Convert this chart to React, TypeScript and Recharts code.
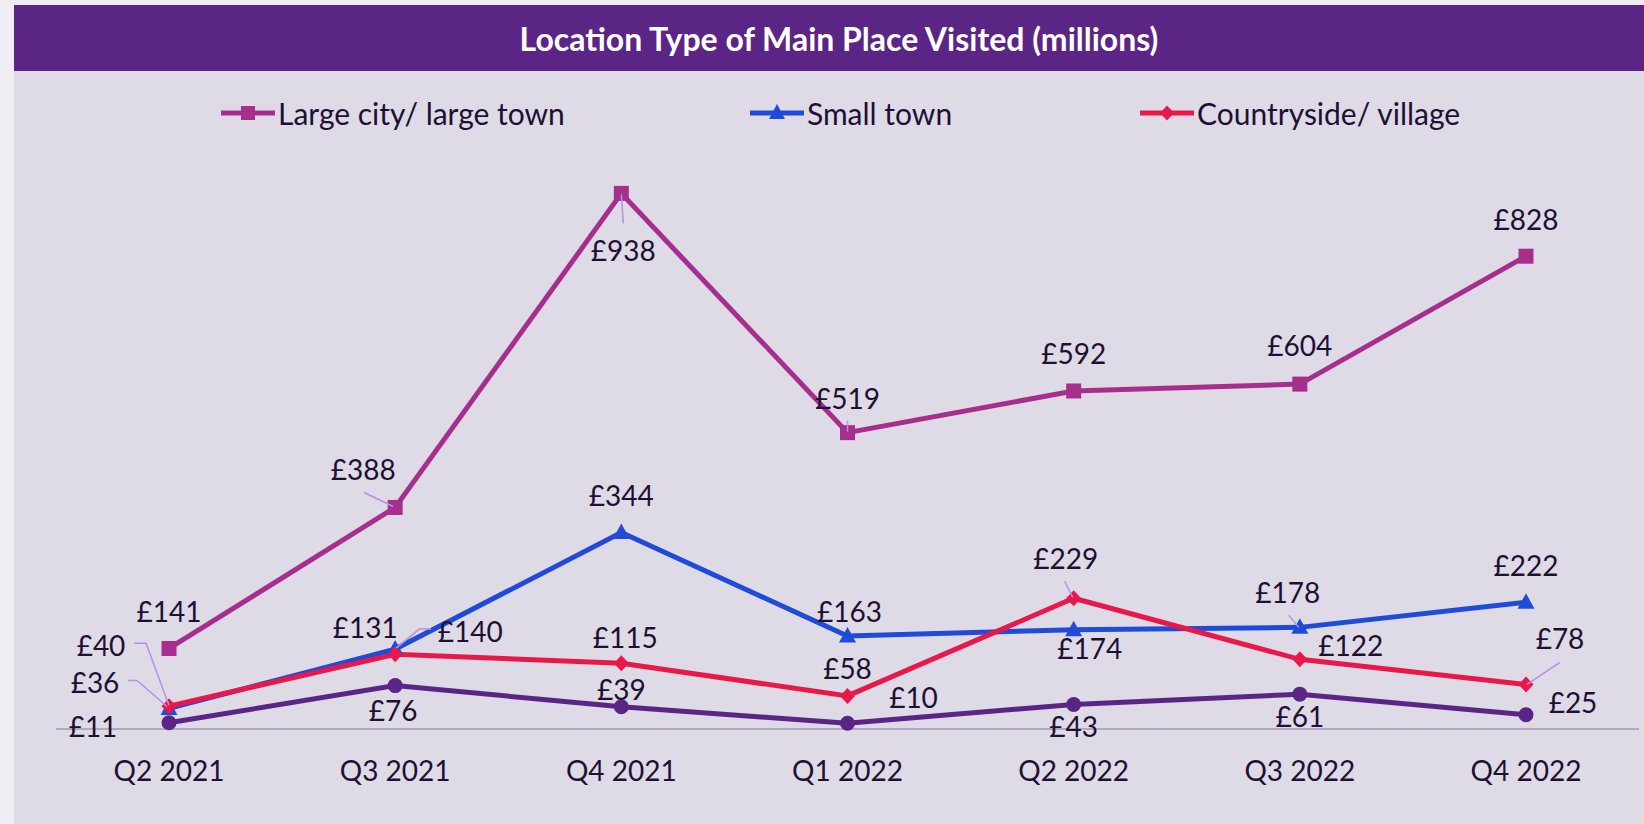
import React from 'react';
import { LineChart, Line, XAxis, YAxis, LabelList } from 'recharts';

const categories = ['Q2 2021', 'Q3 2021', 'Q4 2021', 'Q1 2022', 'Q2 2022', 'Q3 2022', 'Q4 2022'];
const largeCity = [141, 388, 938, 519, 592, 604, 828];
const smallTown = [36, 140, 344, 163, 174, 178, 222];
const countryside = [40, 131, 115, 58, 229, 122, 78];
const otherPlace = [11, 76, 39, 10, 43, 61, 25];

const seriesNames = ['Large city/ large town', 'Small town', 'Countryside/ village'];

const data = categories.map((quarter, i) => ({
  quarter,
  large: largeCity[i],
  small: smallTown[i],
  country: countryside[i],
  other: otherPlace[i],
}));

const FONT = "Lato, 'Open Sans', sans-serif";
const TEXT = '#1e1033';
const LEADER = '#b98fe6';
const C_LARGE = '#a62f8e';
const C_SMALL = '#1f4bd8';
const C_COUNTRY = '#e8194a';
const C_OTHER = '#5b2586';
const SW = 5;

type Off = { dx: number; dy: number; leader?: number[][] };

const largeOff: Off[] = [
  { dx: 0, dy: -37 },
  { dx: -32, dy: -38, leader: [[-31, -15], [-2, -1]] },
  { dx: 2, dy: 57, leader: [[0, 1], [2, 30]] },
  { dx: 0, dy: -35, leader: [[0, -12], [0, -1]] },
  { dx: 0, dy: -38 },
  { dx: 0, dy: -39 },
  { dx: 0, dy: -37 },
];
const smallOff: Off[] = [
  { dx: -74, dy: -26, leader: [[-41, -28], [-32, -28], [-2, -2]] },
  { dx: 75, dy: -18, leader: [[36, -20], [24, -20], [1, -1]] },
  { dx: 0, dy: -38 },
  { dx: 2, dy: -25 },
  { dx: 16, dy: 18 },
  { dx: -12, dy: -35, leader: [[-11, -12], [-1, 0]] },
  { dx: 0, dy: -37 },
];
const countryOff: Off[] = [
  { dx: -68, dy: -61, leader: [[-35, -63], [-23, -63], [0, -1]] },
  { dx: -30, dy: -27 },
  { dx: 4, dy: -26 },
  { dx: 0, dy: -28 },
  { dx: -8, dy: -40, leader: [[-9, -17], [-1, -1]] },
  { dx: 51, dy: -14 },
  { dx: 34, dy: -46, leader: [[34, -22], [1, 0]] },
];
const otherOff: Off[] = [
  { dx: -76, dy: 3 },
  { dx: -2, dy: 24 },
  { dx: 0, dy: -18 },
  { dx: 66, dy: -26 },
  { dx: 0, dy: 22 },
  { dx: 0, dy: 22 },
  { dx: 47, dy: -13 },
];

const makeLabel = (offs: Off[], key: string) => (props: any) => {
  const x = props.x ?? props.viewBox?.x;
  const y = props.y ?? props.viewBox?.y;
  const index = props.index;
  const o = offs[index] || { dx: 0, dy: -30 };
  return (
    <g key={`${key}-${index}`}>
      {o.leader && (
        <polyline
          points={o.leader.map(([a, b]) => `${x + a},${y + b}`).join(' ')}
          fill="none"
          stroke={LEADER}
          strokeWidth={1.5}
        />
      )}
      <text
        x={x + o.dx}
        y={y + o.dy}
        textAnchor="middle"
        dominantBaseline="central"
        fontSize={28}
        fontFamily={FONT}
        fill={TEXT}
      >
        £{props.value}
      </text>
    </g>
  );
};

const Square = (props: any) => {
  const { cx, cy, index } = props;
  return <rect key={`sq-${index}`} x={cx - 7.5} y={cy - 7.5} width={15} height={15} fill={C_LARGE} />;
};
const Triangle = (props: any) => {
  const { cx, cy, index } = props;
  return <polygon key={`tr-${index}`} points={`${cx},${cy - 9} ${cx - 8.5},${cy + 6.5} ${cx + 8.5},${cy + 6.5}`} fill={C_SMALL} />;
};
const Diamond = (props: any) => {
  const { cx, cy, index } = props;
  return <polygon key={`dm-${index}`} points={`${cx},${cy - 8} ${cx + 7.5},${cy} ${cx},${cy + 8} ${cx - 7.5},${cy}`} fill={C_COUNTRY} />;
};
const Circle = (props: any) => {
  const { cx, cy, index } = props;
  return <circle key={`ci-${index}`} cx={cx} cy={cy} r={7.5} fill={C_OTHER} />;
};

const Tick = (props: any) => {
  const { x, y, payload } = props;
  return (
    <text x={x} y={y + 41} textAnchor="middle" dominantBaseline="central" fontSize={28} fontFamily={FONT} fill={TEXT}>
      {payload.value}
    </text>
  );
};

const LegendIcon = ({ color, shape }: { color: string; shape: string }) => (
  <svg width={54} height={20} style={{ display: 'block' }}>
    <line x1={0} y1={10} x2={54} y2={10} stroke={color} strokeWidth={SW} />
    {shape === 'square' && <rect x={20} y={3} width={14} height={14} fill={color} />}
    {shape === 'triangle' && <polygon points="27,1 19,16 35,16" fill={color} />}
    {shape === 'diamond' && <polygon points="27,2.5 34,10 27,17.5 20,10" fill={color} />}
  </svg>
);

const legendItems = [
  { name: seriesNames[0], color: C_LARGE, shape: 'square', left: 221 },
  { name: seriesNames[1], color: C_SMALL, shape: 'triangle', left: 750 },
  { name: seriesNames[2], color: C_COUNTRY, shape: 'diamond', left: 1140 },
];

export default function App() {
  return (
    <div style={{ position: 'absolute', left: 0, top: 0, width: 1644, height: 824, background: '#efeef4', overflow: 'hidden', fontFamily: FONT }}>
      <div style={{ position: 'absolute', left: 14, top: 5, width: 1650, height: 819, background: '#dedae6' }} />
      <div
        style={{
          position: 'absolute', left: 14, top: 5, width: 1650, height: 66, background: '#5b2586',
          color: '#ffffff', fontWeight: 700, fontSize: 32, display: 'flex', alignItems: 'center', justifyContent: 'center',
        }}
      >
        Location Type of Main Place Visited (millions)
      </div>
      {legendItems.map((it) => (
        <div key={it.name} style={{ position: 'absolute', left: it.left, top: 94, height: 38, display: 'flex', alignItems: 'center', gap: 3, fontSize: 30, color: TEXT, whiteSpace: 'nowrap' }}>
          <LegendIcon color={it.color} shape={it.shape} />
          <span>{it.name}</span>
        </div>
      ))}
      <div style={{ position: 'absolute', left: 0, top: 0 }}>
        <LineChart width={1644} height={824} data={data} margin={{ top: 158, right: 5, bottom: 65, left: 56 }}>
          <XAxis
            dataKey="quarter"
            height={30}
            tickLine={false}
            tickSize={0}
            tickMargin={0}
            padding={{ left: 113, right: 113 }}
            axisLine={{ stroke: '#b1a9c1', strokeWidth: 2 }}
            tick={<Tick />}
            interval={0}
          />
          <YAxis hide domain={[0, 1000]} />
          <Line dataKey="other" name="Other" stroke={C_OTHER} strokeWidth={SW} dot={Circle} activeDot={false} isAnimationActive={false} legendType="none">
            <LabelList dataKey="other" content={makeLabel(otherOff, 'o')} />
          </Line>
          <Line dataKey="large" name={seriesNames[0]} stroke={C_LARGE} strokeWidth={SW} dot={Square} activeDot={false} isAnimationActive={false}>
            <LabelList dataKey="large" content={makeLabel(largeOff, 'l')} />
          </Line>
          <Line dataKey="small" name={seriesNames[1]} stroke={C_SMALL} strokeWidth={SW} dot={Triangle} activeDot={false} isAnimationActive={false}>
            <LabelList dataKey="small" content={makeLabel(smallOff, 's')} />
          </Line>
          <Line dataKey="country" name={seriesNames[2]} stroke={C_COUNTRY} strokeWidth={SW} dot={Diamond} activeDot={false} isAnimationActive={false}>
            <LabelList dataKey="country" content={makeLabel(countryOff, 'c')} />
          </Line>
        </LineChart>
      </div>
    </div>
  );
}
